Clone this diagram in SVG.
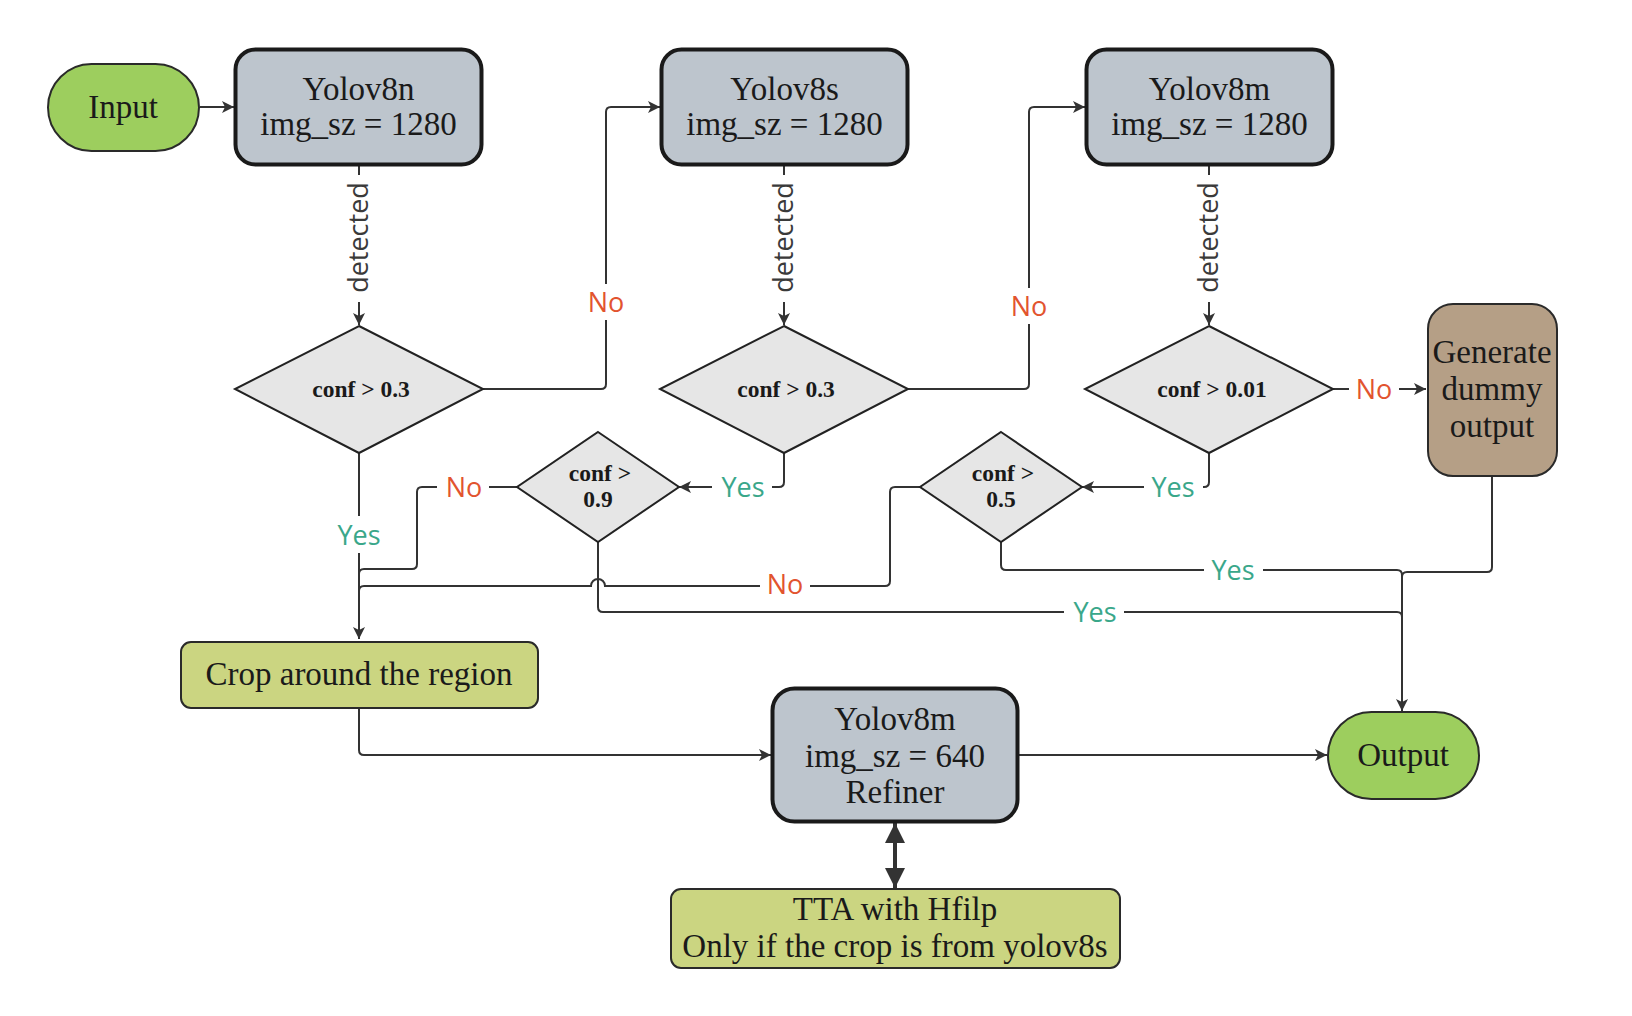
<svg xmlns="http://www.w3.org/2000/svg" width="1632" height="1016" viewBox="0 0 1632 1016">
<defs>
<style>
.ln{fill:none;stroke:#333;stroke-width:2}
.big{fill:none;stroke:#333;stroke-width:4}
.lbl{font-family:"Open Sans","DejaVu Sans",sans-serif;font-size:27px;text-anchor:middle}
.no{fill:#E2542F}
.yes{fill:#3AA78A}
.det{fill:#3a3a3a}
.gap{fill:#fff;stroke:none}
.t{font-family:"Liberation Serif","Times New Roman",serif;font-size:33px;fill:#1a1a1a;text-anchor:middle}
.c{font-family:"Liberation Serif","Times New Roman",serif;font-size:23.5px;font-weight:bold;fill:#1a1a1a;text-anchor:middle}
.model{fill:#BDC5CD;stroke:#1a1a1a;stroke-width:4}
.term{fill:#9DCE5E;stroke:#2a2a2a;stroke-width:2}
.olive{fill:#CBD581;stroke:#2a2a2a;stroke-width:2}
.dia{fill:#E6E6E6;stroke:#222;stroke-width:2}
.brown{fill:#B59F86;stroke:#2a2a2a;stroke-width:2}
</style>
<marker id="ah" markerUnits="userSpaceOnUse" markerWidth="13" markerHeight="13" refX="12" refY="6" orient="auto">
<path d="M0,0 L12,6 L0,12 L3,6 Z" fill="#333"/>
</marker>
<marker id="bh" markerUnits="userSpaceOnUse" markerWidth="21" markerHeight="21" refX="20" refY="10" orient="auto-start-reverse">
<path d="M0,0 L20,10 L0,20 Z" fill="#333"/>
</marker>
</defs>
<rect width="1632" height="1016" fill="#fff"/>

<g id="connectors">
<path class="ln" d="M200,107 H234" marker-end="url(#ah)"/>
<path class="ln" d="M359,166 V325" marker-end="url(#ah)"/>
<path class="ln" d="M784,166 V325" marker-end="url(#ah)"/>
<path class="ln" d="M1209,166 V325" marker-end="url(#ah)"/>
<path class="ln" d="M483,389 H601 Q606,389 606,384 V112 Q606,107 611,107 H660" marker-end="url(#ah)"/>
<path class="ln" d="M908,389 H1024 Q1029,389 1029,384 V112 Q1029,107 1034,107 H1085" marker-end="url(#ah)"/>
<path class="ln" d="M1333,389 H1426" marker-end="url(#ah)"/>
<path class="ln" d="M784,453 V482 Q784,487 779,487 H679" marker-end="url(#ah)"/>
<path class="ln" d="M1209,453 V482 Q1209,487 1204,487 H1082" marker-end="url(#ah)"/>
<path class="ln" d="M517,487 H422 Q417,487 417,492 V564 Q417,569 412,569 H364 Q359,569 359,574 V639"/>
<path class="ln" d="M920,487 H895 Q890,487 890,492 V581 Q890,586 885,586 H605 A7,7 0 0 0 591,586 H364 Q359,586 359,591 V639"/>
<path class="ln" d="M359,453 V639" marker-end="url(#ah)"/>
<path class="ln" d="M598,542 V607 Q598,612 603,612 H1397 Q1402,612 1402,617 V711"/>
<path class="ln" d="M1001,542 V565 Q1001,570 1006,570 H1397 Q1402,570 1402,575 V711"/>
<path class="ln" d="M1492,476 V567 Q1492,572 1487,572 H1407 Q1402,572 1402,577 V711" marker-end="url(#ah)"/>
<path class="ln" d="M359,708 V750 Q359,755 364,755 H771" marker-end="url(#ah)"/>
<path class="ln" d="M1019,755 H1327" marker-end="url(#ah)"/>
<path class="big" d="M895,823 V888" marker-start="url(#bh)" marker-end="url(#bh)"/>

<rect class="gap" x="350" y="175" width="18" height="127"/>
<rect class="gap" x="775" y="175" width="18" height="127"/>
<rect class="gap" x="1200" y="175" width="18" height="127"/>
<text class="lbl det" transform="translate(368,237.5) rotate(-90)">detected</text>
<text class="lbl det" transform="translate(793,237.5) rotate(-90)">detected</text>
<text class="lbl det" transform="translate(1218,237.5) rotate(-90)">detected</text>

<rect class="gap" x="596" y="284" width="20" height="36"/>
<text class="lbl no" x="606" y="312">No</text>
<rect class="gap" x="1019" y="288" width="20" height="36"/>
<text class="lbl no" x="1029" y="316">No</text>
<rect class="gap" x="1349" y="379" width="50" height="20"/>
<text class="lbl no" x="1374" y="399">No</text>
<rect class="gap" x="437" y="477" width="52" height="20"/>
<text class="lbl no" x="464" y="497">No</text>
<rect class="gap" x="760" y="576" width="50" height="20"/>
<text class="lbl no" x="785" y="594">No</text>

<rect class="gap" x="349" y="516" width="20" height="37"/>
<text class="lbl yes" x="359" y="545">Yes</text>
<rect class="gap" x="712" y="477" width="60" height="20"/>
<text class="lbl yes" x="743" y="497">Yes</text>
<rect class="gap" x="1144" y="477" width="59" height="20"/>
<text class="lbl yes" x="1173" y="497">Yes</text>
<rect class="gap" x="1064" y="602" width="60" height="20"/>
<text class="lbl yes" x="1095" y="622">Yes</text>
<rect class="gap" x="1204" y="560" width="59" height="20"/>
<text class="lbl yes" x="1233" y="580">Yes</text>
</g>

<g id="input">
<rect class="term" x="48" y="64" width="151" height="87" rx="43.5"/>
<text class="t" x="123" y="118">Input</text>
</g>
<g id="yolov8n">
<rect class="model" x="235.5" y="49.5" width="246" height="115" rx="20"/>
<text class="t" x="358.5" y="100">Yolov8n</text>
<text class="t" x="358.5" y="135">img_sz = 1280</text>
</g>
<g id="yolov8s">
<rect class="model" x="661.5" y="49.5" width="246" height="115" rx="20"/>
<text class="t" x="784.5" y="100">Yolov8s</text>
<text class="t" x="784.5" y="135">img_sz = 1280</text>
</g>
<g id="yolov8m">
<rect class="model" x="1086.5" y="49.5" width="246" height="115" rx="20"/>
<text class="t" x="1209.5" y="100">Yolov8m</text>
<text class="t" x="1209.5" y="135">img_sz = 1280</text>
</g>
<g id="cond1">
<polygon class="dia" points="359,326 483,389 359,453 235,389"/>
<text class="c" x="361" y="397">conf &gt; 0.3</text>
</g>
<g id="cond2">
<polygon class="dia" points="784,326 908,389 784,453 660,389"/>
<text class="c" x="786" y="397">conf &gt; 0.3</text>
</g>
<g id="cond3">
<polygon class="dia" points="1209,326 1333,389 1209,453 1085,389"/>
<text class="c" x="1212" y="397">conf &gt; 0.01</text>
</g>
<g id="cond4">
<polygon class="dia" points="598,432 679,487 598,542 517,487"/>
<text class="c" x="600" y="481">conf &gt;</text>
<text class="c" x="598" y="507">0.9</text>
</g>
<g id="cond5">
<polygon class="dia" points="1001,432 1082,487 1001,542 920,487"/>
<text class="c" x="1003" y="481">conf &gt;</text>
<text class="c" x="1001" y="507">0.5</text>
</g>
<g id="dummy">
<rect class="brown" x="1428" y="304" width="129" height="172" rx="25"/>
<text class="t" x="1492" y="363">Generate</text>
<text class="t" x="1492" y="400">dummy</text>
<text class="t" x="1492" y="437">output</text>
</g>
<g id="crop">
<rect class="olive" x="181" y="642" width="357" height="66" rx="10"/>
<text class="t" x="359" y="685">Crop around the region</text>
</g>
<g id="refiner">
<rect class="model" x="772.5" y="688.5" width="245" height="133" rx="22"/>
<text class="t" x="895" y="730">Yolov8m</text>
<text class="t" x="895" y="767">img_sz = 640</text>
<text class="t" x="895" y="803">Refiner</text>
</g>
<g id="tta">
<rect class="olive" x="671" y="889" width="449" height="79" rx="10"/>
<text class="t" x="895" y="920">TTA with Hfilp</text>
<text class="t" x="895" y="957">Only if the crop is from yolov8s</text>
</g>
<g id="output">
<rect class="term" x="1328" y="712" width="151" height="87" rx="43.5"/>
<text class="t" x="1403" y="766">Output</text>
</g>
</svg>
